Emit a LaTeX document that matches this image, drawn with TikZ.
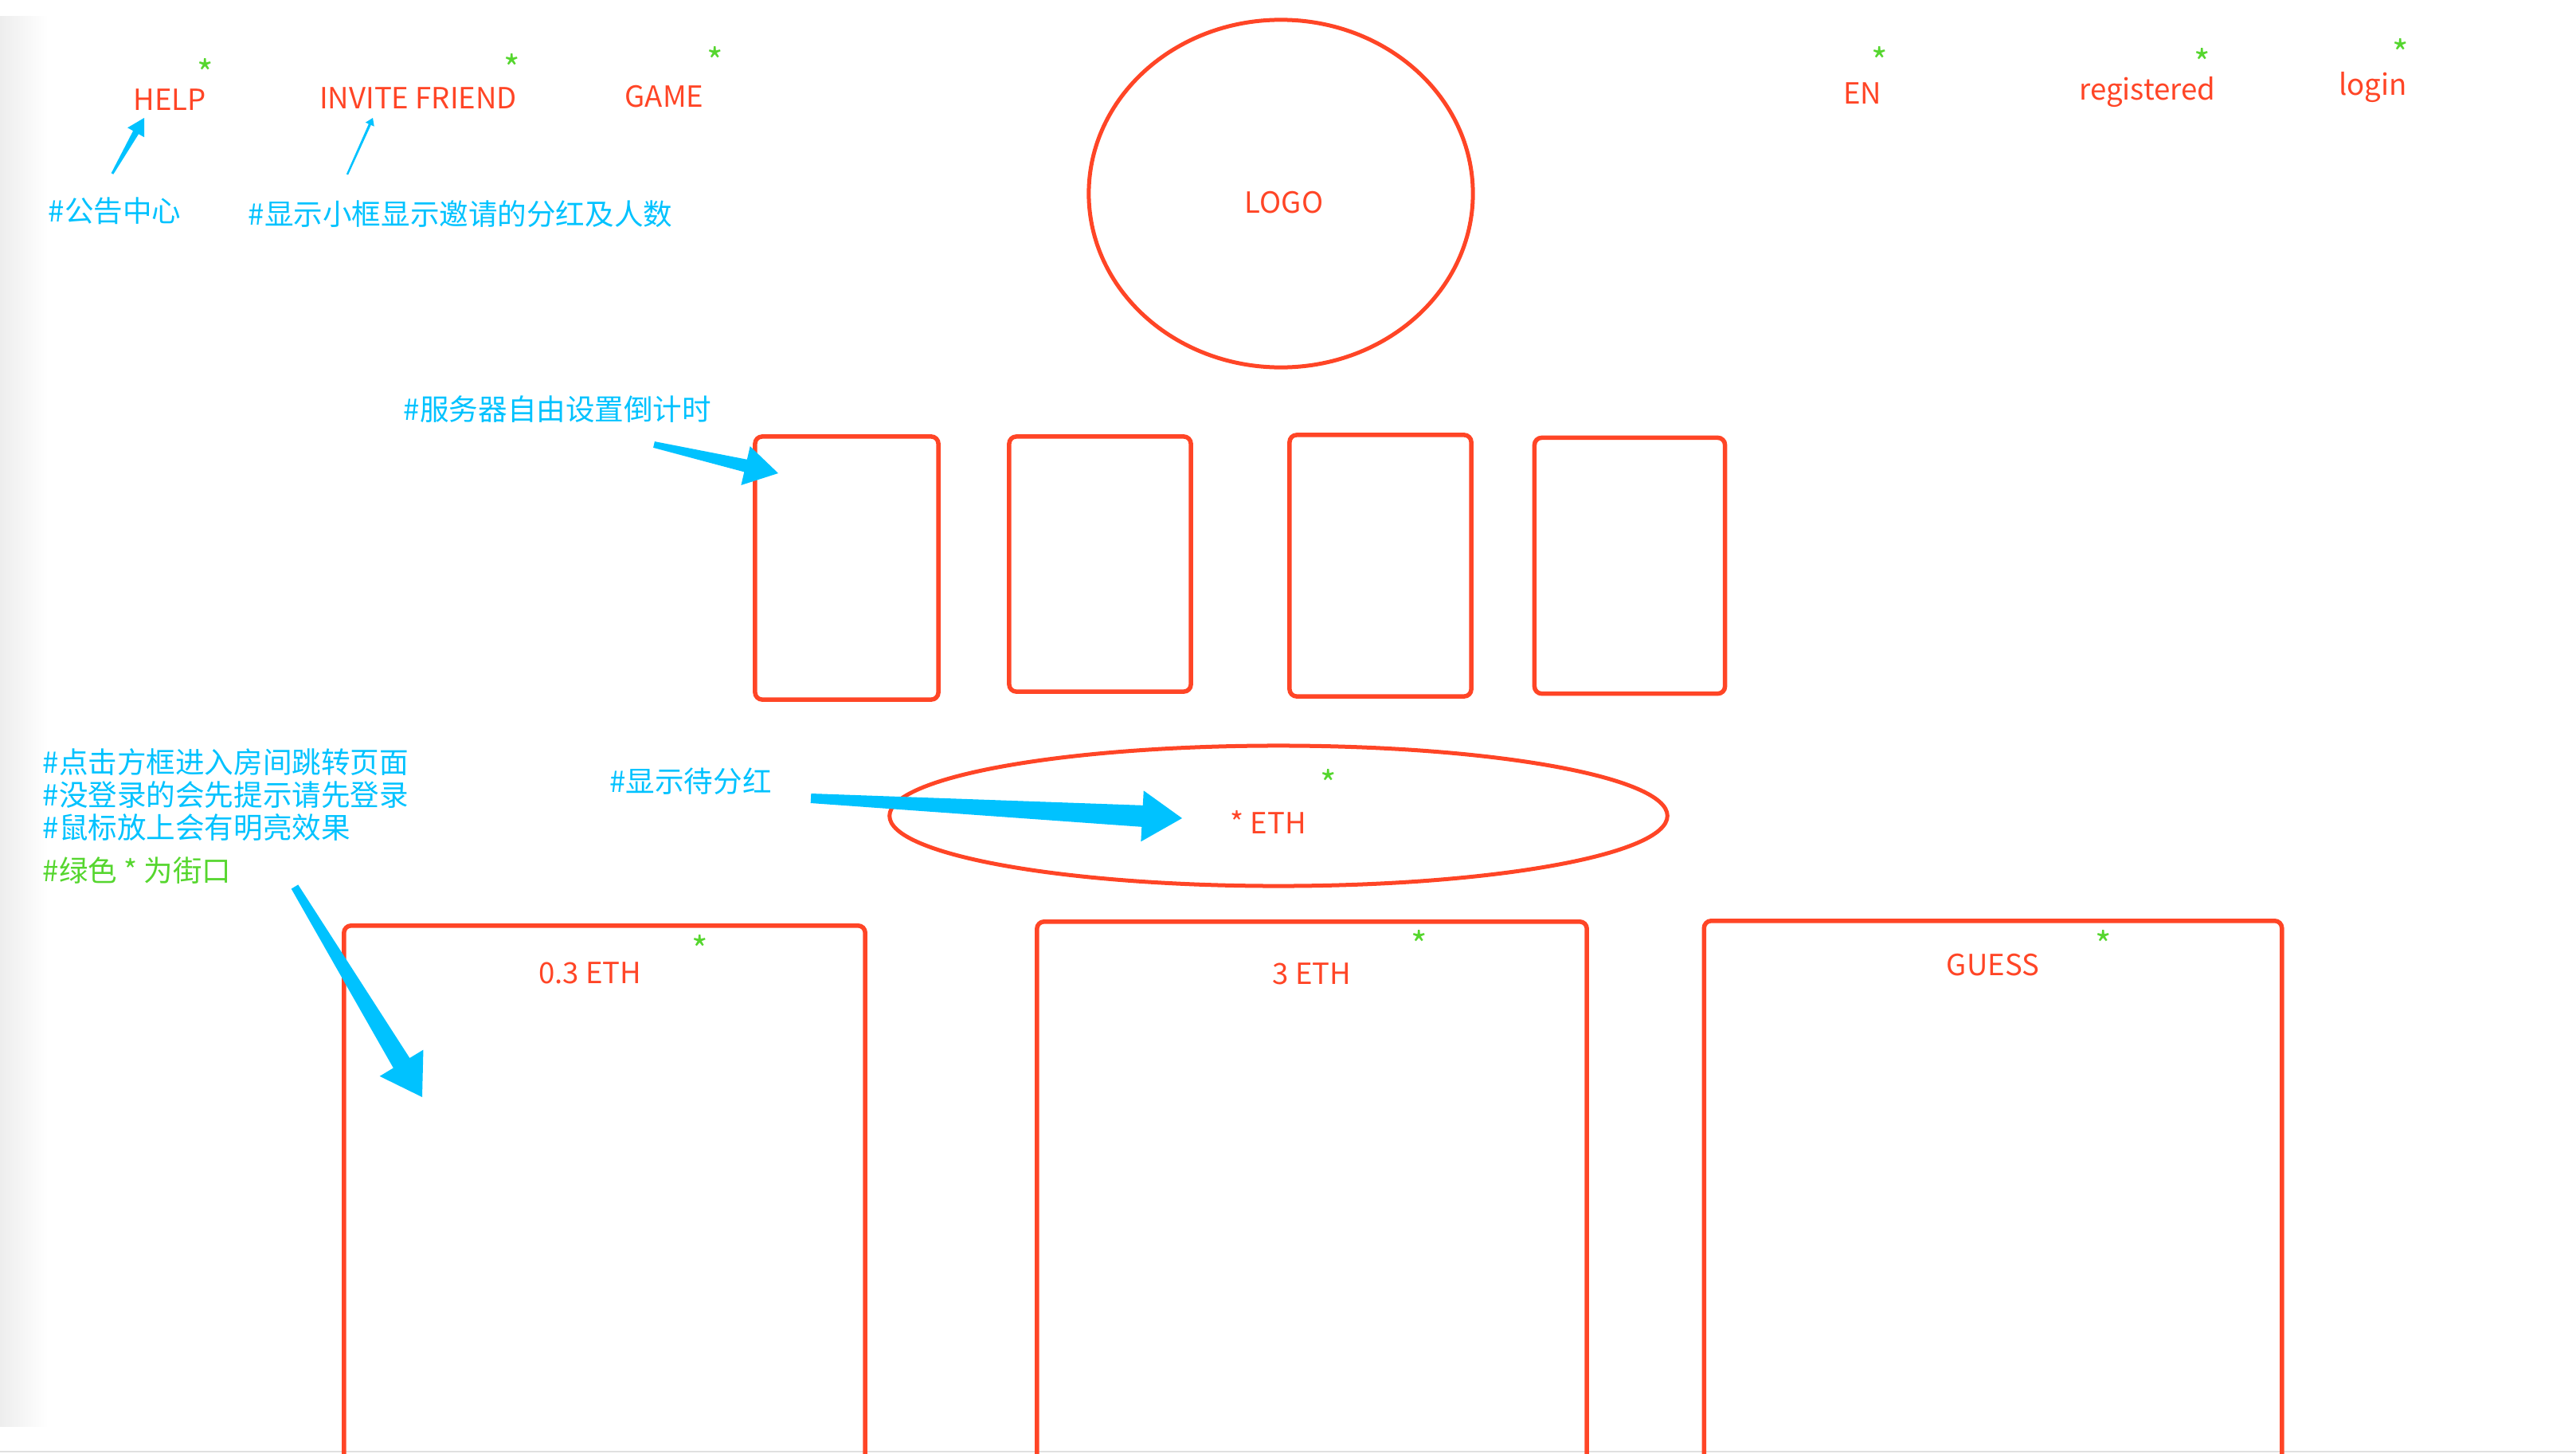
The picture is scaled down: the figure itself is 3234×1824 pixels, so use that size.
\documentclass[tikz,border=0pt]{standalone}
\usepackage{fontspec}
\setmainfont{Noto Sans CJK SC}
\usetikzlibrary{shapes.geometric,calc}
\definecolor{wired}{HTML}{FF4526}
\definecolor{noteblue}{HTML}{00C2FF}
\definecolor{starg}{HTML}{55D62E}
% tapered callout arrow: from, to, tail half width, shaft half width, head half width, head length
\newcommand{\fatarrow}[6]{%
  \coordinate (fh) at ($(#2)!#6!(#1)$);
  \fill[noteblue] ($(#1)!#3!90:(#2)$) -- ($(fh)!#4!90:(#2)$) -- ($(fh)!#5!90:(#2)$)
    -- (#2) -- ($(fh)!#5!-90:(#2)$) -- ($(fh)!#4!-90:(#2)$) -- ($(#1)!#3!-90:(#2)$) -- cycle;}
\begin{document}
\begin{tikzpicture}[x=0.01cm, y=-0.01cm,
    every node/.style={font=\fontsize{10.4pt}{12.5pt}\selectfont},
    menu/.style={text=wired, inner sep=0pt},
    note/.style={text=noteblue, inner sep=0pt},
    gstar/.style={text=starg, inner sep=0pt, yshift=-0.25cm, font=\fontsize{12.5pt}{14pt}\selectfont},
    boxframe/.style={draw=wired, line width=0.055cm, rounded corners=0.09cm},
    oval/.style={draw=wired, line width=0.05cm, ellipse, inner sep=0pt}]
\path[use as bounding box] (0,0) rectangle (3234,1824);
\clip (0,0) rectangle (3234,1824);
\shade[left color=black!7, right color=white] (0,20) rectangle (60,1790);
\draw[black!12, line width=0.02cm] (0,1822) -- (3234,1822);

% top bar
\foreach \k/\x/\y/\t in {0/213/125/HELP, 1/525/123/INVITE FRIEND, 2/834/121/GAME, 3/2338/117/EN, 4/2696/116/registered, 5/2979/110/login}
    \draw (\x,\y) node[menu] (m\k) {\t};
\node[oval, minimum width=4.82cm, minimum height=4.36cm] (logo) at (1608,243) {};
\node[menu] (logot) at ([shift={(4,11)}]logo.center) {LOGO};

% countdown boxes
\foreach \k/\x/\y/\w/\h in {1/1063/713/2.30/3.30, 2/1381/708/2.28/3.20, 3/1733/710/2.28/3.28, 4/2046/710/2.39/3.21}
    \draw (\x,\y) node[boxframe, minimum width=\w cm, minimum height=\h cm] (t\k) {};

% dividend pool
\node[oval, minimum width=9.76cm, minimum height=1.76cm] (pot) at (1605,1024) {};
\node[menu] (pott) at ([shift={(-13,8)}]pot.center) {* ETH};

% rooms
\foreach \k/\x/\y/\w/\t/\dx/\dy in {1/759/1562/6.54/0.3 ETH/-0.18/0.62, 2/1647/1557/6.90/3 ETH/0/0.68, 3/2502/1556/7.25/GUESS/0/0.58}
    \draw (\x,\y) node[boxframe, minimum width=\w cm, minimum height=8cm] (r\k) {}
        ([shift={(\dx cm,-\dy cm)}]r\k.north) node[menu] (r\k t) {\t};

% entrances
\foreach \k/\x/\y in {0/258/83, 1/643/77, 2/898/68, 3/2360/68, 4/2765/70, 5/3014/58, 6/1668/975, 7/879/1183, 8/1782/1177, 9/2641/1177}
    \draw (\x,\y) node[gstar] (s\k) {\smash{*}};

% notes
\node[note] (n0) at (144,265) {\#公告中心};
\node[note] (n1) at (578,269) {\#显示小框显示邀请的分红及人数};
\node[note] (n2) at (700,514) {\#服务器自由设置倒计时};
\node[note] (n3) at (867,981) {\#显示待分红};
\node[note, anchor=west, align=left, font=\fontsize{10.4pt}{11.66pt}\selectfont] (n4) at (53,998)
    {\#点击方框进入房间跳转页面\\\#没登录的会先提示请先登录\\\#鼠标放上会有明亮效果};
\node[note, text=starg, anchor=west] (n5) at (53,1093) {\#绿色 * 为街口};

% callout arrows
\coordinate (a0) at (141,218); \coordinate (b0) at (181,148);
\coordinate (a1) at (436,219); \coordinate (b1) at (468,148);
\coordinate (a2) at (821,558); \coordinate (b2) at (977,594);
\coordinate (a3) at (1018,1002); \coordinate (b3) at (1484,1027);
\coordinate (a4) at (370,1113); \coordinate (b4) at (530,1377);
\fatarrow{a0}{b0}{0.015cm}{0.04cm}{0.12cm}{0.21cm}
\fatarrow{a1}{b1}{0.012cm}{0.016cm}{0.06cm}{0.09cm}
\fatarrow{a2}{b2}{0.04cm}{0.08cm}{0.25cm}{0.42cm}
\fatarrow{a3}{b3}{0.06cm}{0.135cm}{0.32cm}{0.50cm}
\fatarrow{a4}{b4}{0.05cm}{0.12cm}{0.32cm}{0.50cm}
\end{tikzpicture}
\end{document}
